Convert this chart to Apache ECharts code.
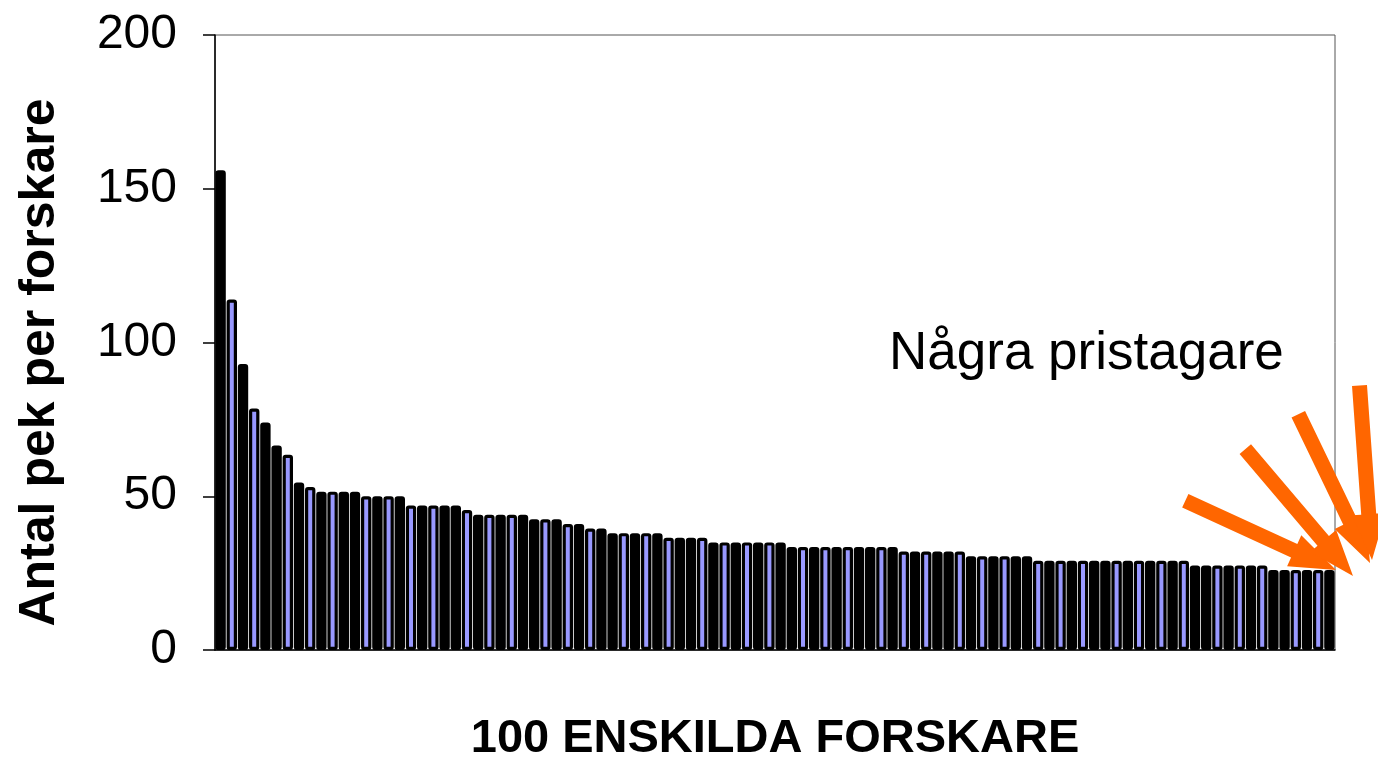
<!DOCTYPE html>
<html>
<head>
<meta charset="utf-8">
<script src="https://cdn.jsdelivr.net/npm/echarts@6/dist/echarts.min.js"></script>
<style>
  html, body { margin: 0; padding: 0; background: #fff; }
  #chart { width: 1378px; height: 759px; }
</style>
</head>
<body>
<div id="chart"></div>
<script>
// ---- data ----
const categories = Array.from({ length: 100 }, (_, i) => 'Forskare ' + (i + 1));
const pointsPerResearcher = [
  156, 114, 93, 78.5, 74, 66.5, 63.5, 54.5, 53,
  51.5, 51.5, 51.5, 51.5,
  50, 50, 50, 50,
  47, 47, 47, 47, 47,
  45.5,
  44, 44, 44, 44, 44,
  42.5, 42.5, 42.5,
  41, 41,
  39.5, 39.5,
  38, 38, 38, 38, 38,
  36.5, 36.5, 36.5, 36.5,
  35, 35, 35, 35, 35, 35, 35,
  33.5, 33.5, 33.5, 33.5, 33.5, 33.5, 33.5, 33.5, 33.5, 33.5,
  32, 32, 32, 32, 32, 32,
  30.5, 30.5, 30.5, 30.5, 30.5, 30.5,
  29, 29, 29, 29, 29, 29, 29, 29, 29, 29, 29, 29, 29, 29,
  27.5, 27.5, 27.5, 27.5, 27.5, 27.5, 27.5,
  26, 26, 26, 26, 26, 26
];
const yTicks = { min: 0, max: 200, interval: 50 };
const yTitle = 'Antal pek per forskare';
const xTitle = '100 ENSKILDA FORSKARE';
const noteText = 'Några pristagare';

// ---- styling helpers ----
// which bars show their lavender fill (the rest render as solid black, as in the picture)
const shownFill = new Set();
for (let n = 0; n < 43; n++) shownFill.add(Math.round(1 + 2.3095 * n));

function arrow(tail, tip, shaftW, headW, headL) {
  const dx = tip[0] - tail[0], dy = tip[1] - tail[1];
  const L = Math.hypot(dx, dy);
  const ux = dx / L, uy = dy / L, px = -uy, py = ux;
  const bx = tip[0] - ux * headL, by = tip[1] - uy * headL;
  const s = shaftW / 2, h = headW / 2;
  return [
    [tail[0] + px * s, tail[1] + py * s],
    [bx + px * s, by + py * s],
    [bx + px * h, by + py * h],
    [tip[0], tip[1]],
    [bx - px * h, by - py * h],
    [bx - px * s, by - py * s],
    [tail[0] - px * s, tail[1] - py * s]
  ];
}
const arrowSpecs = [
  { tail: [1185.3, 500.8], tip: [1336, 570] },
  { tail: [1245.3, 449.2], tip: [1353, 576] },
  { tail: [1298.3, 414.2], tip: [1370, 563] },
  { tail: [1359.5, 385.5], tip: [1372, 560] }
];
const ORANGE = '#ff6600';

const chart = echarts.init(document.getElementById('chart'), null, { renderer: 'canvas' });
const FONT = "'Liberation Sans', Arial, sans-serif";

chart.setOption({
  animation: false,
  backgroundColor: '#ffffff',
  grid: {
    left: 215, right: 43, top: 35, bottom: 109,
    outerBoundsMode: 'none',
    containLabel: false,
    show: true, borderColor: '#555', borderWidth: 1, backgroundColor: 'transparent'
  },
  xAxis: {
    type: 'category',
    data: categories,
    name: xTitle,
    nameLocation: 'middle',
    nameGap: 66,
    nameTextStyle: { fontFamily: FONT, fontSize: 47, fontWeight: 'bold', color: '#000' },
    axisLine: { show: true, lineStyle: { color: '#000', width: 1.5 } },
    axisTick: { show: false },
    axisLabel: { show: false },
    splitLine: { show: false }
  },
  yAxis: {
    type: 'value',
    min: yTicks.min, max: yTicks.max, interval: yTicks.interval,
    name: yTitle,
    nameLocation: 'middle',
    nameRotate: 90,
    nameGap: 150,
    nameTextStyle: { fontFamily: FONT, fontSize: 50, fontWeight: 'bold', color: '#000', padding: [0, 40, 0, 0] },
    axisLine: { show: true, lineStyle: { color: '#000', width: 1.5 } },
    axisTick: { show: true, length: 12, lineStyle: { color: '#000', width: 1.5 } },
    axisLabel: { fontFamily: FONT, fontSize: 48, color: '#000', margin: 38 },
    splitLine: { show: false }
  },
  series: [{
    type: 'bar',
    data: pointsPerResearcher,
    barWidth: 10.4,
    itemStyle: {
      color: (p) => shownFill.has(p.dataIndex) ? '#9999ff' : '#000000',
      borderColor: '#000000',
      borderWidth: 3.2,
      borderRadius: 1.5
    },
    emphasis: { disabled: true }
  }],
  graphic: [
    {
      type: 'text',
      left: 889, top: 328,
      style: { text: noteText, fontFamily: FONT, fontSize: 53, fill: '#000' }
    },
    ...arrowSpecs.map(a => ({
      type: 'polygon',
      shape: { points: arrow(a.tail, a.tip, 15, 34, 46) },
      style: { fill: ORANGE },
      z: 100
    }))
  ]
});
</script>
</body>
</html>
